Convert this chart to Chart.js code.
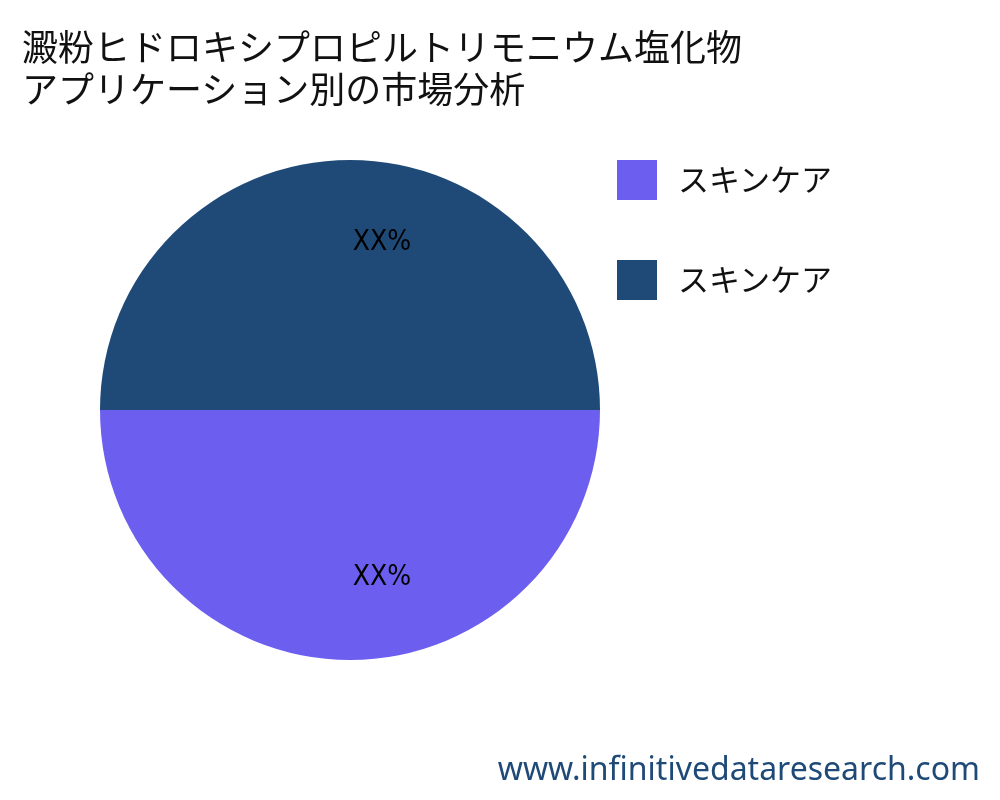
<!DOCTYPE html>
<html><head><meta charset="utf-8">
<script src="https://cdn.jsdelivr.net/npm/chart.js@4"></script>
<style>
body{margin:0;width:1000px;height:800px;background:#fff;font-family:"Noto Sans CJK JP","Noto Sans",sans-serif;overflow:hidden}
#wrap{position:relative;width:1000px;height:800px}
canvas{position:absolute;left:0;top:0}
.t{position:absolute;left:22px;top:24px;font-size:36px;line-height:42px;color:#111;white-space:nowrap}
.lg{position:absolute;left:617px;width:40px;height:40px}
.lt{position:absolute;left:678px;font-size:31px;line-height:40px;color:#111}
.wm{position:absolute;right:20px;top:746px;font-size:32px;color:#1f4a78;font-family:"Noto Sans",sans-serif}
</style></head><body><div id="wrap">
<canvas id="c" width="1000" height="800"></canvas>
<div class="t">澱粉ヒドロキシプロピルトリモニウム塩化物<br>アプリケーション別の市場分析</div>
<div class="lg" style="top:160px;background:#6c5ff0"></div><div class="lt" style="top:158px">スキンケア</div>
<div class="lg" style="top:260px;background:#1f4a78"></div><div class="lt" style="top:258px">スキンケア</div>
<div class="wm">www.infinitivedataresearch.com</div>
</div>
<script>
const categories=["スキンケア","スキンケア"];
const values=[50,50];
const valueLabels=["XX%","XX%"];
const colors=["#6c5ff0","#1f4a78"];
const lbl={id:'lbl',afterDatasetsDraw(ch){const ctx=ch.ctx;ch.getDatasetMeta(0).data.forEach((a,i)=>{const m=(a.startAngle+a.endAngle)/2,r=a.outerRadius*0.67;ctx.save();ctx.font='28px "DejaVu Sans Condensed","Noto Sans",sans-serif';ctx.fillStyle='#000';ctx.textAlign='center';ctx.textBaseline='middle';ctx.fillText(valueLabels[i],a.x+Math.cos(m)*r+32,a.y+Math.sin(m)*r);ctx.restore();});}};
new Chart(document.getElementById('c'),{type:'pie',data:{labels:categories,datasets:[{data:values,backgroundColor:colors,borderWidth:0}]},
options:{responsive:false,animation:false,rotation:90,layout:{padding:{left:100,right:400,top:160,bottom:140}},plugins:{legend:{display:false},tooltip:{enabled:false}}},plugins:[lbl]});
</script></body></html>
